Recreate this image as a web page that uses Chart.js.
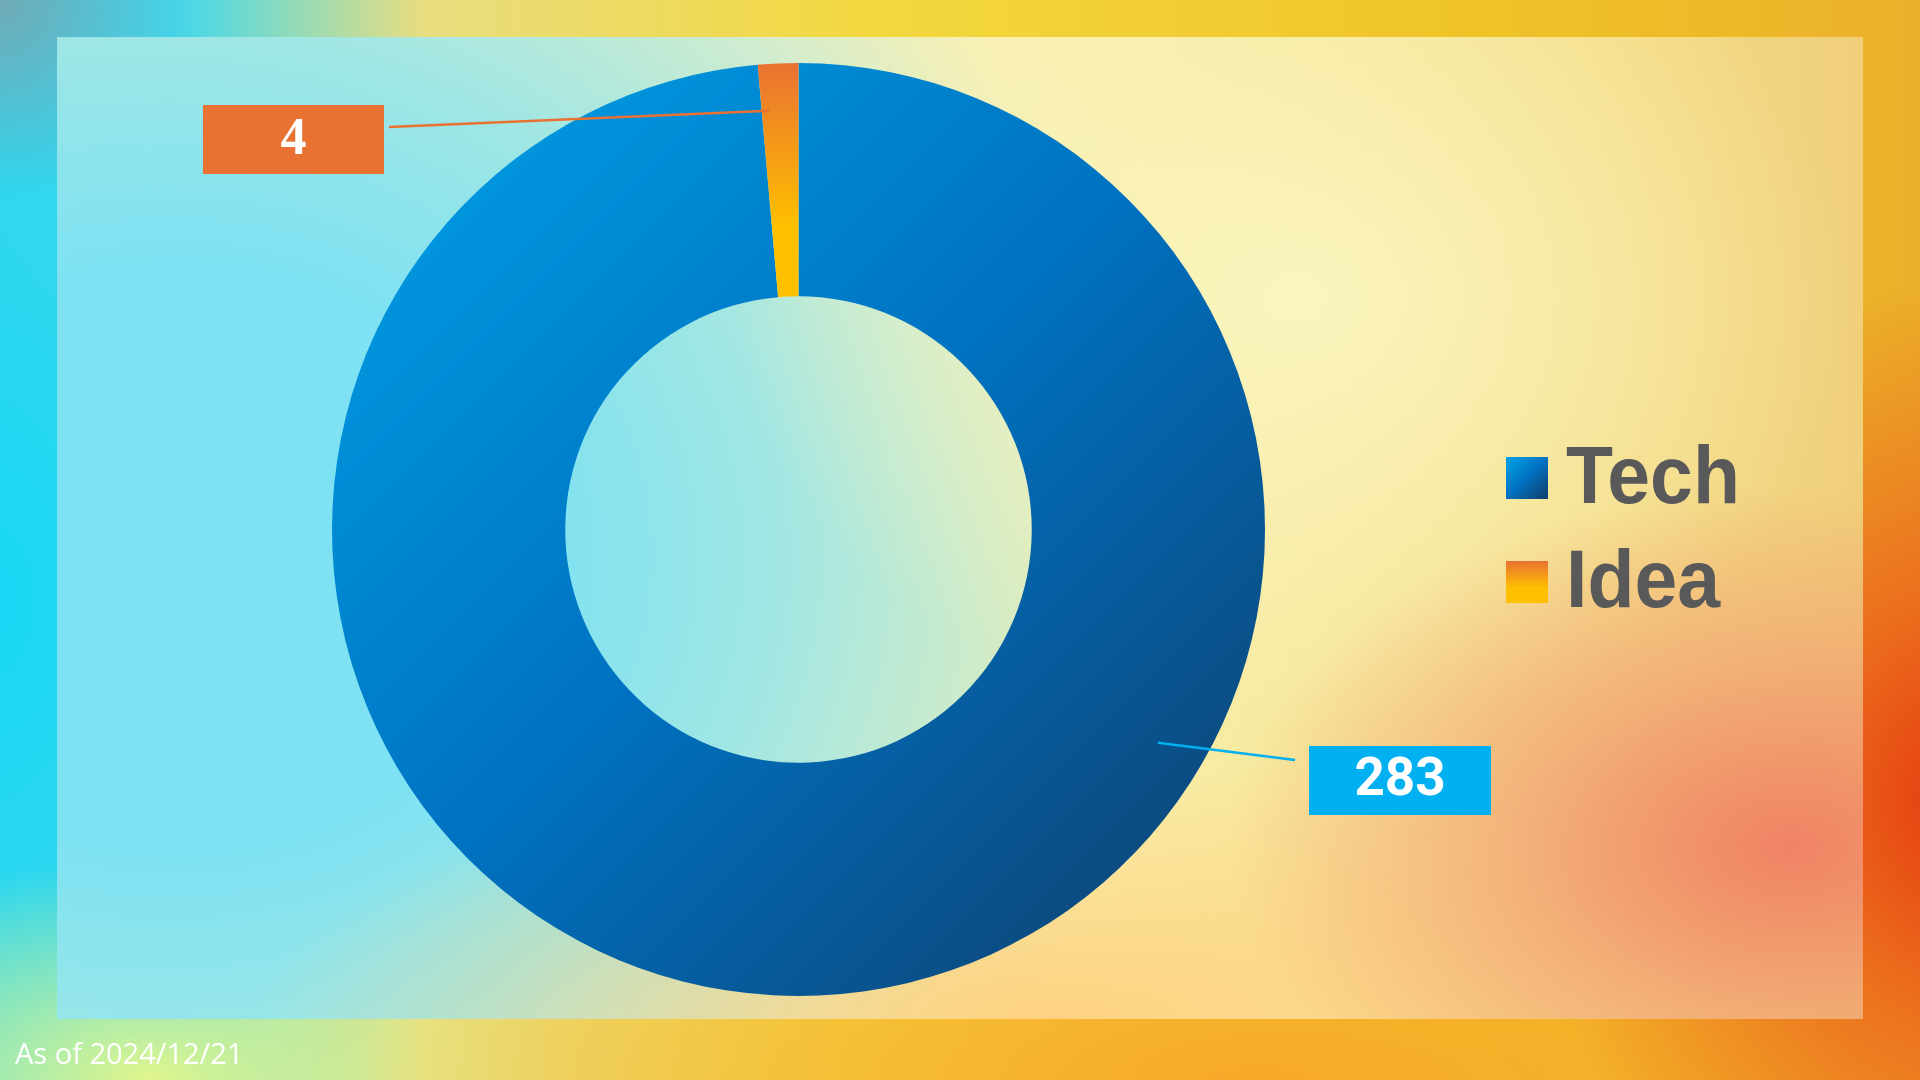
<!DOCTYPE html>
<html><head><meta charset="utf-8">
<script src="https://cdn.jsdelivr.net/npm/chart.js@4.4.1/dist/chart.umd.min.js"></script>
<style>
html,body{margin:0;padding:0;width:1920px;height:1080px;overflow:hidden;}
body{position:relative;background:
 radial-gradient(ellipse 200px 200px at 0 0, rgba(120,165,175,0.9), rgba(120,165,175,0) 100%),
 radial-gradient(ellipse 430px 520px at 1960px 800px, #e63a10 0%, rgba(235,90,25,0.75) 40%, rgba(240,140,40,0) 100%),
 radial-gradient(ellipse 900px 260px at 1250px 1080px, rgba(248,165,40,0.9), rgba(248,165,40,0) 100%),
 radial-gradient(ellipse 420px 220px at 150px 1080px, rgba(225,245,140,1), rgba(225,245,140,0) 100%),
 radial-gradient(ellipse 330px 650px at 0 600px, #18d8f5 0%, rgba(40,215,240,0.6) 50%, rgba(40,215,240,0) 100%),
 linear-gradient(90deg, #35d6ef 0%, #40d8ee 9%, #e8dd80 22%, #f3d840 45%, #f0c528 75%, #ebb02a 100%);}
#panel{position:absolute;left:57px;top:37px;width:1806px;height:982px;background:
 radial-gradient(ellipse 560px 360px at 1733px 810px, rgba(240,130,100,1) 0%, rgba(242,150,110,0.6) 50%, rgba(242,150,110,0) 100%),
 radial-gradient(ellipse 800px 260px at 1000px 982px, rgba(254,210,128,1), rgba(254,210,128,0) 100%),
 radial-gradient(ellipse 560px 440px at 1240px 260px, rgba(250,244,190,1), rgba(250,244,190,0) 100%),
 radial-gradient(ellipse 1000px 850px at 120px 520px, rgba(126,226,242,1) 0%, rgba(126,226,242,1) 35%, rgba(140,228,236,0.8) 60%, rgba(150,230,230,0) 100%),
 linear-gradient(90deg, #d8eed0 0%, #f4f0c0 40%, #f8eea8 60%, #f4dd88 85%, #f0cf7a 100%);}
#wrap{position:absolute;left:0;top:0;width:1920px;height:1080px;}
#note{position:absolute;left:15px;top:1033px;font:29px 'Open Sans';color:#fff;white-space:nowrap;}
</style></head>
<body>
<div id="panel"></div>
<div id="wrap"><canvas id="c" width="1920" height="1080"></canvas></div>
<div id="note"></div>
<script>
// ---- data ----
const categories = ['Tech', 'Idea'];
const counts = [283, 4];
const boxColors = ['#00b0f0', '#e97132'];
const asOfText = 'As of 2024/12/21';

document.getElementById('note').textContent = asOfText;

function techGrad(g, x0, y0, x1, y1) {
  const gr = g.createLinearGradient(x0, y0, x1, y1);
  gr.addColorStop(0, '#00a3e8'); gr.addColorStop(0.5, '#0071c0'); gr.addColorStop(1, '#103c68');
  return gr;
}
function ideaGrad(g, y0, y1) {
  const gr = g.createLinearGradient(0, y0, 0, y1);
  gr.addColorStop(0, '#e97132'); gr.addColorStop(1, '#ffc000');
  return gr;
}
function sliceFill(c) {
  const chart = c.chart, a = chart.chartArea;
  if (!a) return c.dataIndex === 0 ? '#0071c0' : '#ffc000';
  const cx = (a.left + a.right) / 2, cy = (a.top + a.bottom) / 2;
  const r = Math.min(a.right - a.left, a.bottom - a.top) / 2;
  if (c.dataIndex === 0) return techGrad(chart.ctx, cx - r, cy - r, cx + r, cy + r);
  return ideaGrad(chart.ctx, cy - r, cy - r * 0.65);
}

const calloutPlugin = {
  id: 'callouts',
  afterDatasetsDraw(chart, args, opts) {
    const ctx = chart.ctx;
    const meta = chart.getDatasetMeta(0);
    meta.data.forEach((arc, i) => {
      const p = arc.getProps(['x', 'y', 'startAngle', 'endAngle', 'outerRadius']);
      const o = opts.items[i];
      const ang = p.startAngle + (p.endAngle - p.startAngle) * o.angleFrac;
      const ax = p.x + Math.cos(ang) * p.outerRadius * o.radiusFrac;
      const ay = p.y + Math.sin(ang) * p.outerRadius * o.radiusFrac;
      const bx = p.x + o.dx * p.outerRadius - o.w / 2;
      const by = p.y + o.dy * p.outerRadius - o.h / 2;
      const lx = o.side === 'right' ? bx + o.w + o.gap : bx - o.gap;
      const ly = by + o.lineY;
      ctx.save();
      ctx.strokeStyle = boxColors[i]; ctx.lineWidth = 2.5;
      ctx.beginPath(); ctx.moveTo(lx, ly); ctx.lineTo(ax, ay); ctx.stroke();
      ctx.fillStyle = boxColors[i];
      ctx.fillRect(bx, by, o.w, o.h);
      ctx.fillStyle = '#ffffff';
      ctx.font = o.font; ctx.textAlign = 'center'; ctx.textBaseline = 'alphabetic';
      ctx.fillText(String(chart.data.datasets[0].data[i]), bx + o.w / 2, by + o.h / 2 + o.cap / 2 - 4);
      ctx.restore();
    });
  }
};

const legendPlugin = {
  id: 'sideLegend',
  afterDraw(chart, args, o) {
    const ctx = chart.ctx;
    chart.data.labels.forEach((lab, i) => {
      const y = o.top + i * o.step;
      ctx.save();
      if (i === 0) {
        ctx.fillStyle = techGrad(ctx, o.x, y, o.x + o.size, y + o.size);
      } else {
        const g = ctx.createLinearGradient(0, y, 0, y + o.size);
        g.addColorStop(0, '#e97132'); g.addColorStop(0.65, '#ffc000'); g.addColorStop(1, '#ffc000');
        ctx.fillStyle = g;
      }
      ctx.fillRect(o.x, y, o.size, o.size);
      ctx.fillStyle = '#595959';
      ctx.font = o.font;
      ctx.textBaseline = 'alphabetic';
      ctx.translate(o.textX, y + o.baseline);
      ctx.scale(o.scaleX, 1);
      ctx.fillText(lab, 0, 0);
      ctx.restore();
    });
  }
};

new Chart(document.getElementById('c'), {
  type: 'doughnut',
  data: {
    labels: categories,
    datasets: [{ data: counts, backgroundColor: sliceFill, borderWidth: 0 }]
  },
  options: {
    responsive: false, devicePixelRatio: 1, animation: false,
    cutout: '50%',
    layout: { padding: { left: 332, right: 655, top: 63, bottom: 84 } },
    plugins: {
      legend: { display: false },
      tooltip: { enabled: false },
      callouts: { items: [
        { angleFrac: 0.34, radiusFrac: 0.896, dx: 1.2894, dy: 0.538, w: 182, h: 69, side: 'left', gap: 14, lineY: 14,
          font: 'bold 53px Roboto', cap: 38 },
        { angleFrac: 0.21, radiusFrac: 0.9, dx: -1.0826, dy: -0.836, w: 181, h: 69, side: 'right', gap: 5, lineY: 22,
          font: 'bold 52px "Liberation Sans Narrow"', cap: 37 }
      ] },
      sideLegend: { x: 1506, top: 457, step: 104, size: 42, textX: 1566, baseline: 46, scaleX: 0.95,
        font: 'bold 81px "Liberation Sans"' }
    }
  },
  plugins: [calloutPlugin, legendPlugin]
});
</script>
</body></html>
